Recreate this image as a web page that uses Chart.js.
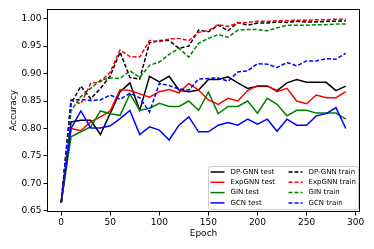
<!DOCTYPE html>
<html>
<head>
<meta charset="utf-8">
<script src="https://cdn.jsdelivr.net/npm/chart.js@4.4.0/dist/chart.umd.min.js"></script>
<style>
  html, body { margin: 0; padding: 0; background: #fff; }
  #wrap { width: 374px; height: 249px; }
</style>
</head>
<body>
<div id="wrap"><canvas id="accChart" width="374" height="249"></canvas></div>
<script>
// epochs and accuracy curves
var epochs = [0, 10, 20, 30, 40, 50, 60, 70, 80, 90, 100, 110, 120, 130, 140,
              150, 160, 170, 180, 190, 200, 210, 220, 230, 240, 250, 260, 270, 280, 290];

var dpgnnTest = [0.665, 0.812, 0.815, 0.815, 0.789, 0.828, 0.867, 0.883, 0.833, 0.895,
                 0.885, 0.895, 0.870, 0.867, 0.870, 0.889, 0.889, 0.894, 0.883, 0.873,
                 0.877, 0.877, 0.869, 0.883, 0.889, 0.884, 0.884, 0.884, 0.869, 0.877];
var expgnnTest = [0.665, 0.800, 0.796, 0.812, 0.821, 0.832, 0.871, 0.869, 0.863, 0.857,
                  0.867, 0.871, 0.865, 0.882, 0.870, 0.852, 0.844, 0.855, 0.850, 0.869,
                  0.878, 0.878, 0.867, 0.873, 0.850, 0.845, 0.861, 0.856, 0.856, 0.867];
var ginTest = [0.665, 0.785, 0.794, 0.803, 0.832, 0.827, 0.824, 0.863, 0.833, 0.837,
               0.846, 0.840, 0.840, 0.850, 0.833, 0.866, 0.827, 0.840, 0.840, 0.850,
               0.828, 0.855, 0.844, 0.823, 0.833, 0.833, 0.828, 0.828, 0.828, 0.817];
var gcnTest = [0.665, 0.800, 0.832, 0.801, 0.801, 0.805, 0.818, 0.833, 0.789, 0.803,
               0.797, 0.779, 0.806, 0.821, 0.794, 0.794, 0.806, 0.811, 0.806, 0.817,
               0.808, 0.817, 0.795, 0.817, 0.806, 0.806, 0.823, 0.827, 0.838, 0.800];

var dpgnnTrain = [0.665, 0.845, 0.877, 0.854, 0.873, 0.896, 0.939, 0.893, 0.890, 0.956,
                  0.960, 0.960, 0.946, 0.950, 0.979, 0.976, 0.988, 0.978, 0.993, 0.988,
                  0.992, 0.992, 0.994, 0.993, 0.995, 0.994, 0.994, 0.995, 0.995, 0.996];
var expgnnTrain = [0.665, 0.851, 0.845, 0.882, 0.885, 0.903, 0.943, 0.931, 0.930, 0.960,
                   0.958, 0.963, 0.964, 0.960, 0.975, 0.978, 0.989, 0.986, 0.992, 0.993,
                   0.995, 0.995, 0.996, 0.996, 0.997, 0.997, 0.998, 0.998, 0.999, 0.999];
var ginTrain = [0.665, 0.832, 0.858, 0.873, 0.888, 0.892, 0.891, 0.905, 0.893, 0.915,
                0.921, 0.935, 0.946, 0.930, 0.955, 0.964, 0.971, 0.966, 0.979, 0.980,
                0.980, 0.978, 0.983, 0.988, 0.988, 0.988, 0.989, 0.989, 0.990, 0.990];
var gcnTrain = [0.665, 0.852, 0.853, 0.851, 0.852, 0.861, 0.853, 0.864, 0.856, 0.830,
                0.882, 0.878, 0.872, 0.870, 0.890, 0.891, 0.892, 0.886, 0.903, 0.905,
                0.918, 0.917, 0.911, 0.920, 0.914, 0.923, 0.923, 0.927, 0.926, 0.937];

var xTicks = [0, 50, 100, 150, 200, 250, 300];
var yTicks = [0.65, 0.70, 0.75, 0.80, 0.85, 0.90, 0.95, 1.00];

var seriesLabels = ['DP-GNN test', 'ExpGNN test', 'GIN test', 'GCN test',
                    'DP-GNN train', 'ExpGNN train', 'GIN train', 'GCN train'];
var seriesData = [dpgnnTest, expgnnTest, ginTest, gcnTest,
                  dpgnnTrain, expgnnTrain, ginTrain, gcnTrain];
var seriesColors = ['#000000', '#ff0000', '#008000', '#0000ff',
                    '#000000', '#ff0000', '#008000', '#0000ff'];

var FONT = 'DejaVu Sans';

function toPoints(values) {
  return values.map(function(v, i) { return {x: epochs[i], y: v}; });
}

var datasets = seriesData.map(function(values, i) {
  var isTrain = i >= 4;
  return {
    label: seriesLabels[i],
    data: toPoints(values),
    borderColor: seriesColors[i],
    backgroundColor: seriesColors[i],
    borderWidth: 1.5,
    borderDash: isTrain ? [4, 2] : [],
    pointRadius: 0,
    tension: 0,
    fill: false,
    order: seriesData.length - i // later series on top, like matplotlib
  };
});

// full black frame around the plot area
var framePlugin = {
  id: 'frame',
  afterDatasetsDraw: function(chart) {
    var a = chart.chartArea, ctx = chart.ctx;
    ctx.save();
    ctx.strokeStyle = '#000';
    ctx.lineWidth = 1;
    ctx.strokeRect(Math.round(a.left) + 0.5, Math.round(a.top) + 0.5,
                   Math.round(a.right - a.left) - 1, Math.round(a.bottom - a.top) - 1);
    ctx.restore();
  }
};

// two-column legend in the lower right corner, filled column by column
var legendPlugin = {
  id: 'boxLegend',
  afterDraw: function(chart) {
    var a = chart.chartArea, ctx = chart.ctx;
    var w = 150, h = 43;
    var right = a.right - 2.5, bottom = a.bottom - 3.5;
    var left = right - w, top = bottom - h;
    ctx.save();
    ctx.fillStyle = 'rgba(255,255,255,0.8)';
    ctx.strokeStyle = '#cccccc';
    ctx.lineWidth = 1;
    ctx.beginPath();
    ctx.roundRect(Math.round(left) + 0.5, Math.round(top) + 0.5, w, h, 2);
    ctx.fill();
    ctx.stroke();
    ctx.font = '7px "' + FONT + '"';
    ctx.textBaseline = 'middle';
    ctx.fillStyle = '#000';
    var rowH = 10.3, colW = 78;
    datasets.forEach(function(ds, i) {
      var col = Math.floor(i / 4), row = i % 4;
      var hx = left + 3 + col * colW;
      var cy = top + 6.5 + row * rowH;
      ctx.strokeStyle = ds.borderColor;
      ctx.lineWidth = 1.5;
      ctx.setLineDash(ds.borderDash);
      ctx.beginPath();
      ctx.moveTo(hx, cy);
      ctx.lineTo(hx + 14, cy);
      ctx.stroke();
      ctx.setLineDash([]);
      ctx.fillText(ds.label, hx + 20, cy);
    });
    ctx.restore();
  }
};

var ctx = document.getElementById('accChart').getContext('2d');
var accChart = new Chart(ctx, {
  type: 'line',
  data: { datasets: datasets },
  options: {
    responsive: false,
    animation: false,
    events: [],
    layout: { padding: { top: 9, right: 14, left: 0, bottom: 0 } },
    plugins: {
      legend: { display: false },
      tooltip: { enabled: false }
    },
    scales: {
      x: {
        type: 'linear',
        min: -14.5,
        max: 304.5,
        afterBuildTicks: function(scale) {
          scale.ticks = xTicks.map(function(v) { return {value: v}; });
        },
        afterFit: function(scale) { scale.height = 37; },
        ticks: {
          color: '#000',
          font: { family: FONT, size: 9 },
          padding: 2,
          maxRotation: 0,
          callback: function(v) { return String(v); }
        },
        grid: {
          drawOnChartArea: false,
          drawTicks: true,
          tickLength: 3.5,
          tickColor: '#000',
          tickWidth: 1
        },
        border: { display: false },
        title: {
          display: true,
          text: 'Epoch',
          color: '#000',
          font: { family: FONT, size: 9 },
          padding: { top: 0, bottom: 9.5 }
        }
      },
      y: {
        type: 'linear',
        min: 0.648,
        max: 1.0175,
        afterBuildTicks: function(scale) {
          scale.ticks = yTicks.map(function(v) { return {value: v}; });
        },
        afterFit: function(scale) { scale.width = 47; },
        ticks: {
          color: '#000',
          font: { family: FONT, size: 9 },
          padding: 2,
          callback: function(v) { return Number(v).toFixed(2); }
        },
        grid: {
          drawOnChartArea: false,
          drawTicks: true,
          tickLength: 3.5,
          tickColor: '#000',
          tickWidth: 1
        },
        border: { display: false },
        title: {
          display: true,
          text: 'Accuracy',
          color: '#000',
          font: { family: FONT, size: 9 },
          padding: { top: 8, bottom: 0 }
        }
      }
    }
  },
  plugins: [framePlugin, legendPlugin]
});
</script>
</body>
</html>
